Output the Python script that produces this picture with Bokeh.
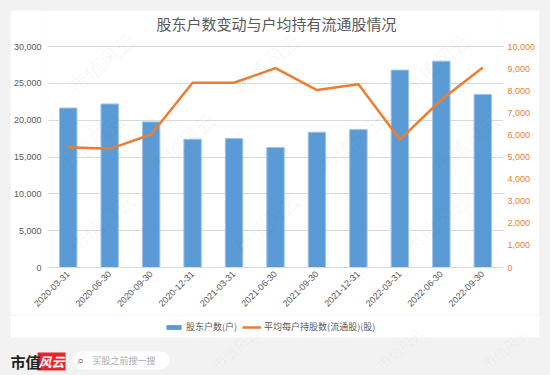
import math
from bokeh.plotting import figure
from bokeh.layouts import column
from bokeh.models import (FactorRange, Range1d, LinearAxis, NumeralTickFormatter,
                          FixedTicker, Label, Legend, LegendItem)
from bokeh.embed import file_html
from bokeh.resources import INLINE

# ---- data ----
dates = ["2020-03-31", "2020-06-30", "2020-09-30", "2020-12-31", "2021-03-31",
         "2021-06-30", "2021-09-30", "2021-12-31", "2022-03-31", "2022-06-30",
         "2022-09-30"]
holders = [21650, 22200, 19760, 17410, 17500, 16290, 18360, 18720, 26800, 28010, 23500]
avg_shares = [5440, 5370, 6020, 8360, 8360, 9020, 8030, 8290, 5790, 7590, 9050]
left_ticks = [0, 5000, 10000, 15000, 20000, 25000, 30000]
right_ticks = [0, 1000, 2000, 3000, 4000, 5000, 6000, 7000, 8000, 9000, 10000]
title_text = "股东户数变动与户均持有流通股情况"
legend_labels = ["股东户数(户)", "平均每户持股数(流通股)(股)"]

BLUE = "#5B9BD5"
ORANGE = "#ED7D31"
GREY_TXT = "#595959"
GRID = "#D9D9D9"
BG = "#F2F2F2"
FONT = "Liberation Sans"
CJK = "Noto Sans CJK SC"

# ---- geometry (canvas pixels) ----
PX0, PX1, PY0 = 10, 539, 10          # white panel left/right/top
FL, FR, FT, FB = 46, 503, 10, 267    # frame edges
Y_TOP_GRID = 46                      # canvas y of 30,000
BOTTOM_BORDER = 48
MAIN_H = FB - PY0 + BOTTOM_BORDER

left_max = 30000 * (FB - FT) / (FB - Y_TOP_GRID)
right_max = 10000 * (FB - FT) / (FB - Y_TOP_GRID)

main = figure(width=PX1 - PX0, height=MAIN_H, x_range=FactorRange(*dates),
              y_range=Range1d(0, left_max), output_backend="svg",
              toolbar_location=None, margin=(PY0, 550 - PX1, 0, PX0),
              min_border_left=FL - PX0, min_border_right=PX1 - FR,
              min_border_top=0, min_border_bottom=BOTTOM_BORDER)
main.frame_align = False
main.border_fill_color = "white"
main.background_fill_color = "white"
main.outline_line_color = None
main.extra_y_ranges = {"right": Range1d(0, right_max)}


def sx(cx):
    return cx - FL


def sy(cy):
    return FB - cy


# watermarks (kept fully inside the plot frame)
for cy, xs in [(62, [100, 265, 435]), (142, [90, 180, 350, 465]), (222, [100, 265, 435])]:
    for cx in xs:
        main.add_layout(Label(x=sx(cx), y=sy(cy), x_units="screen", y_units="screen",
                              text="市值风云", text_font=CJK, text_font_size="20px",
                              text_color="#000000", text_alpha=0.04, angle=0.7,
                              text_align="center", text_baseline="middle"))

bars = main.vbar(x=dates, top=holders, width=0.42, fill_color=BLUE,
                 line_color="#9DC3E6", line_width=1)
line = main.line(x=dates, y=avg_shares, y_range_name="right", line_color=ORANGE,
                 line_width=2.5)

ya = main.yaxis[0]
ya.ticker = FixedTicker(ticks=left_ticks)
ya.formatter = NumeralTickFormatter(format="0,0")
ya.axis_line_color = None
ya.major_tick_line_color = None
ya.minor_tick_line_color = None
ya.major_tick_out = 0
ya.minor_tick_out = 0
ya.major_label_text_color = GREY_TXT
ya.major_label_text_font = FONT
ya.major_label_text_font_size = "9px"
ya.major_label_standoff = 6

ra = LinearAxis(y_range_name="right", ticker=FixedTicker(ticks=right_ticks),
                formatter=NumeralTickFormatter(format="0,0"))
ra.axis_line_color = None
ra.major_tick_line_color = None
ra.minor_tick_line_color = None
ra.major_tick_out = 0
ra.minor_tick_out = 0
ra.major_label_text_color = ORANGE
ra.major_label_text_font = FONT
ra.major_label_text_font_size = "9px"
ra.major_label_standoff = 4
main.add_layout(ra, "right")

xa = main.xaxis[0]
xa.axis_line_color = GRID
xa.major_tick_line_color = None
xa.minor_tick_line_color = None
xa.major_tick_out = 0
xa.minor_tick_out = 0
xa.major_label_orientation = math.pi / 4
xa.major_label_text_color = GREY_TXT
xa.major_label_text_font = FONT
xa.major_label_text_font_size = "9px"
xa.major_label_standoff = 5

main.xgrid.grid_line_color = None
main.ygrid.grid_line_color = GRID
main.ygrid.ticker = FixedTicker(ticks=left_ticks)

main.add_layout(Label(x=sx(275), y=sy(23), x_units="screen", y_units="screen",
                      text=title_text, text_font=CJK, text_font_size="15px",
                      text_color=GREY_TXT, text_align="center", text_baseline="middle"))

# ---- footer: legend strip + site footer (data coords = canvas pixels) ----
FOOT_TOP = PY0 + MAIN_H
foot = figure(width=550, height=375 - FOOT_TOP, x_range=Range1d(0, 550),
              y_range=Range1d(375, FOOT_TOP), output_backend="svg",
              toolbar_location=None, x_axis_location=None, y_axis_location=None,
              min_border=0, margin=(0, 0, 0, 0))
foot.frame_align = False
foot.grid.visible = False
foot.outline_line_color = None
foot.background_fill_color = BG
foot.border_fill_color = BG

foot.quad(left=[PX0], right=[PX1], top=[FOOT_TOP], bottom=[337], fill_color="white",
          line_color=None)

for cx in [235, 400, 505]:
    foot.add_layout(Label(x=cx, y=348, text="市值风云", text_font=CJK,
                          text_font_size="14px", text_color="#000000", text_alpha=0.04,
                          angle=0.7, text_align="center", text_baseline="middle"))

# legend proxies (placed outside the visible range)
lg_bar = foot.vbar(x=[-500], top=[-500], bottom=[-510], width=1, fill_color=BLUE,
                   line_color=None)
lg_line = foot.line(x=[-500, -490], y=[-500, -500], line_color=ORANGE, line_width=2.5)
legend = Legend(items=[LegendItem(label=legend_labels[0], renderers=[lg_bar]),
                       LegendItem(label=legend_labels[1], renderers=[lg_line])],
                orientation="horizontal", location=(164, 375 - 333),
                glyph_width=19, glyph_height=6, label_height=12, label_standoff=3,
                spacing=5, padding=0, margin=0, border_line_color=None,
                background_fill_alpha=0, label_text_font=CJK,
                label_text_font_size="9px", label_text_color=GREY_TXT)
foot.add_layout(legend)

foot.add_layout(Label(x=10, y=361, text="市值", text_font=CJK, text_font_size="15px",
                      text_font_style="bold", text_color="#222222",
                      text_baseline="middle"))
foot.quad(left=[37], right=[65], top=[352], bottom=[370], fill_color="#E8242A",
          line_color=None)
foot.add_layout(Label(x=51, y=361, text="风云", text_font=CJK, text_font_size="13px",
                      text_font_style="bold italic", text_color="white",
                      text_align="center", text_baseline="middle"))
foot.quad(left=[81], right=[160], top=[351], bottom=[369], fill_color="white",
          line_color=None)
foot.scatter(x=[81, 160], y=[360, 360], size=18, marker="circle", fill_color="white",
             line_color=None)
foot.add_layout(Label(x=76, y=360, text="⌕", text_font="DejaVu Sans",
                      text_font_size="13px", text_color="#777777",
                      text_baseline="middle"))
foot.add_layout(Label(x=92, y=360, text="买股之前搜一搜", text_font=CJK,
                      text_font_size="9px", text_color="#aaaaaa",
                      text_baseline="middle"))

layout = column(main, foot, spacing=0, styles={"background-color": BG})
open("out.html", "w").write(file_html(layout, INLINE))
